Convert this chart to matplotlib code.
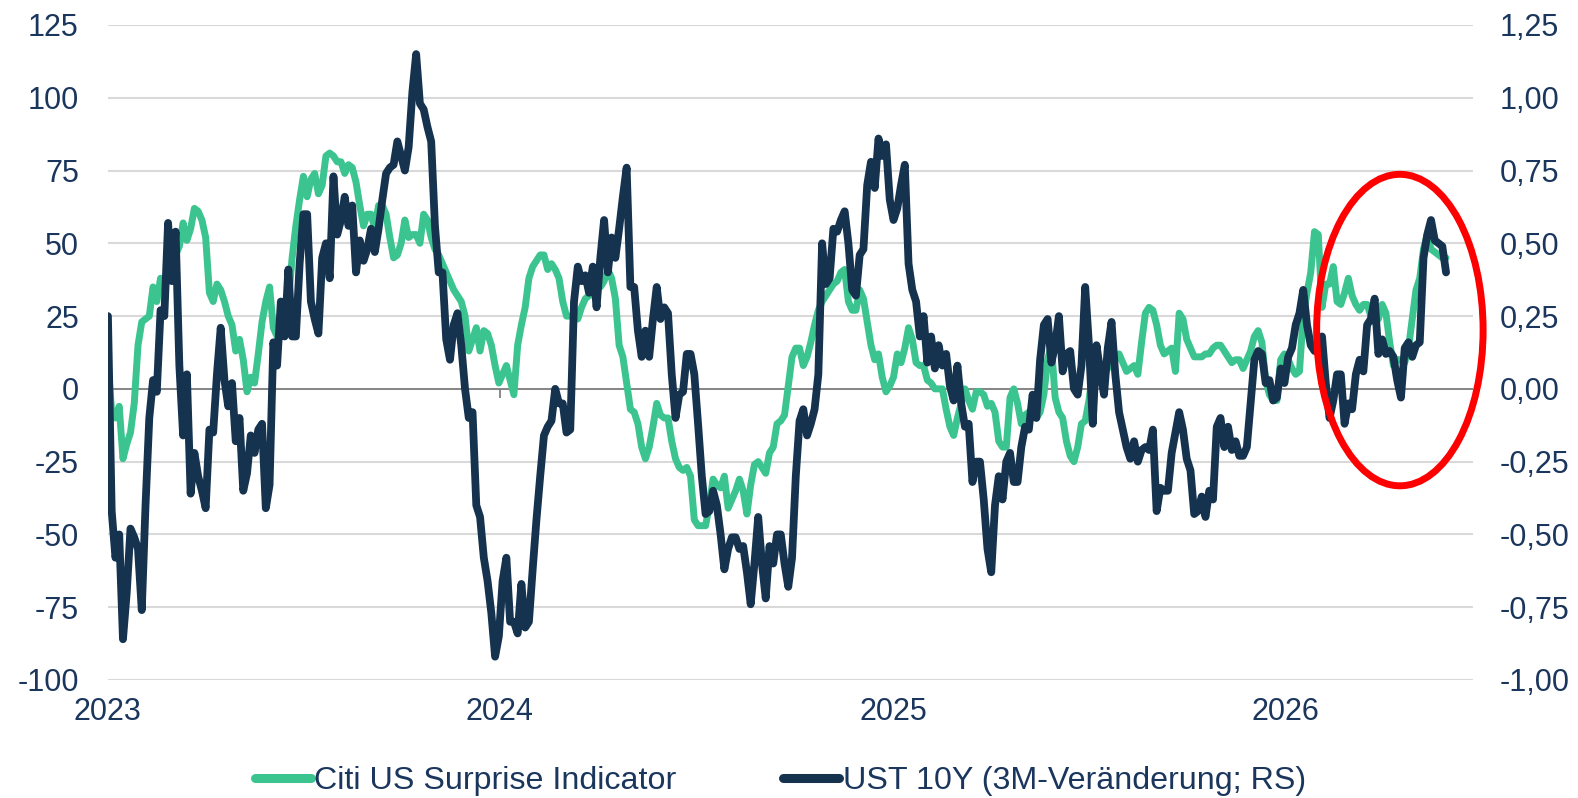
import numpy as np
import pandas as pd
import matplotlib
matplotlib.use('Agg')
import matplotlib.pyplot as plt
import matplotlib.dates as mdates
from matplotlib.patches import Ellipse
from matplotlib.lines import Line2D
from matplotlib.ticker import FuncFormatter, MultipleLocator

plt.rcParams['font.family'] = ['Liberation Sans', 'DejaVu Sans']

# ---------------- data (one value every 3.5 days) ----------------
citi = [
    9, -8, -10, -6, -24, -19, -15, -5, 15, 23,
    24, 25, 35, 30, 38, 37, 40, 44, 46, 49,
    57, 51, 55, 62, 61, 58, 52, 33, 30, 36,
    34, 30, 25, 22, 13, 17, 10, -1, 4, 2,
    12, 23, 30, 35, 21, 18, 20, 23, 30, 45,
    56, 65, 73, 66, 72, 74, 67, 70, 80, 81,
    80, 78, 78, 74, 77, 76, 71, 63, 56, 60,
    60, 55, 63, 63, 60, 52, 45, 46,
    50, 58, 52, 53, 53, 50, 60, 58, 52, 48,
    46, 43, 40, 37, 34, 32, 30, 25, 13, 17,
    21, 13, 20, 19, 15, 8, 2, 5, 8, 3,
    -2, 15, 22, 28, 38, 42, 44, 46, 46, 41,
    43, 41, 38, 30, 25, 25, 25, 24, 28, 31,
    32, 33, 35, 35, 37, 41, 38, 31, 15, 11,
    2, -7, -8, -12, -20, -24, -20, -13, -5, -9,
    -10, -10, -18, -24, -27, -28,
    -27, -30, -45, -47, -47, -47, -40, -31, -33, -34,
    -30, -41, -38, -35, -31, -35, -43, -33, -26, -25,
    -27, -29, -22, -20, -12, -11, -9, 1, 11, 14,
    14, 8, 11, 16, 22, 27, 30, 32, 34, 36,
    37, 40, 41, 30, 27, 27, 34, 31, 23, 15,
    10, 12, 4, -1, 1, 4, 12, 9, 14, 21,
    17, 9, 8, 8, 3, 2, 0, 0, 0, -7,
    -13, -16, -10, -5, 0, -4, -7,
    -1, -1, -2, -6, -5, -8, -18, -20, -20, -3,
    0, -5, -12, -9, -8, -9, -10, -8, -2, 10,
    15, -3, -8, -10, -18, -23, -25, -20, -12, -11,
    -4, 6, 6, 5, 5, 7, 9, 10, 12, 9,
    6, 7, 8, 5, 16, 26, 28, 27, 22, 15,
    12, 13, 14, 6, 26, 24, 17, 14, 11, 11,
    11, 12, 12, 14, 15, 15, 13, 11, 9, 10,
    10, 7, 10, 13, 18, 20, 16, 3,
    -2, -4, -4, 10, 12, 10, 7, 5, 6, 25,
    33, 40, 54, 53, 28, 36, 36, 42, 30, 29,
    33, 38, 32, 29, 27, 29, 29, 25, 23, 24,
    29, 26, 16, 8, 10, 10, 9, 14, 24, 34,
    38, 48, 53, 48, 47, 46, 45, 45,
]

# UST 10Y, 3-month change in basis points
ust_bp = [
    25, -42, -58, -50, -86, -70, -48, -51, -55, -76,
    -40, -10, 3, -1, 27, 25, 57, 37, 54, 8,
    -16, 5, -36, -22, -30, -35, -41, -14, -15, 5,
    21, 3, -6, 2, -18, -10, -35, -29, -16, -22,
    -14, -12, -41, -33, 16, 8, 30, 18, 41, 18,
    18, 43, 60, 60, 30, 24, 19, 45, 50, 38,
    73, 53, 58, 66, 56, 63, 40, 51, 44, 48,
    55, 47, 55, 65, 74, 76, 77, 85,
    80, 75, 83, 102, 115, 98, 96, 90, 85, 56,
    40, 40, 17, 10, 22, 26, 15, 0, -10, -8,
    -40, -44, -58, -66, -77, -92, -85, -66, -58, -80,
    -80, -84, -67, -82, -80, -62, -45, -30, -16, -13,
    -11, 0, -5, -5, -15, -14, 30, 42, 37, 39,
    33, 42, 28, 45, 58, 40, 52, 45, 55, 66,
    76, 35, 35, 20, 11, 20, 11, 24, 35, 24,
    28, 26, 5, -10, -2, -1,
    12, 12, 5, -12, -30, -43, -42, -35, -40, -50,
    -62, -55, -51, -51, -55, -54, -63, -74, -60, -44,
    -60, -72, -54, -60, -50, -50, -60, -68, -58, -30,
    -11, -7, -16, -12, -7, 5, 50, 36, 38, 55,
    54, 58, 61, 50, 34, 32, 46, 48, 70, 78,
    69, 86, 80, 84, 65, 58, 62, 70, 77, 43,
    34, 30, 18, 25, 9, 18, 7, 15, 8, 12,
    1, -4, 8, -5, -13, -12, -32,
    -25, -25, -38, -55, -63, -40, -30, -38, -25, -22,
    -32, -32, -20, -13, -14, -2, -10, 10, 22, 24,
    9, 15, 25, 6, 12, 13, 0, -2, 8, 35,
    15, -12, 15, 6, -2, 14, 23, 5, -8, -14,
    -20, -24, -18, -25, -21, -20, -21, -14, -42, -34,
    -35, -35, -22, -15, -8, -14, -24, -28, -43, -42,
    -37, -44, -35, -38, -13, -10, -20, -13, -21, -18,
    -23, -23, -20, -5, 10, 13, 12, 2,
    3, -4, -3, 7, 2, 11, 14, 22, 26, 34,
    22, 15, 13, 15, 18, 2, -10, -4, 5, 5,
    -12, -5, -7, 5, 10, 6, 22, 24, 31, 12,
    17, 12, 13, 11, 3, -3, 14, 16, 11, 15,
    16, 45, 53, 58, 51, 50, 49, 40,
]

dates = pd.date_range('2023-01-01', periods=len(citi), freq='84h')
ust = np.array(ust_bp) / 100.0

green = '#3BC48F'
navy = '#15324F'
text_col = '#1B365D'

# ---------------------- plot ----------------------
fig = plt.figure(figsize=(15.78, 7.98), dpi=100)
ax = fig.add_axes([0.0684, 0.1479, 0.8650, 0.8208])
ax2 = ax.twinx()

ax.plot(dates, citi, color=green, lw=5.0, solid_joinstyle='round',
        solid_capstyle='round', zorder=3)
ax2.plot(dates, ust, color=navy, lw=5.6, solid_joinstyle='round',
         solid_capstyle='round', zorder=3)

ax.set_ylim(-100, 125)
ax2.set_ylim(-1.0, 1.25)
ax.set_xlim(pd.Timestamp('2023-01-01'), pd.Timestamp('2026-06-25'))

ax.yaxis.set_major_locator(MultipleLocator(25))
ax2.yaxis.set_major_locator(MultipleLocator(0.25))
ax.yaxis.set_major_formatter(FuncFormatter(lambda v, p: f"{int(round(v))}"))
ax2.yaxis.set_major_formatter(FuncFormatter(lambda v, p: f"{v:.2f}".replace('.', ',')))

ax.xaxis.set_major_locator(mdates.YearLocator())
ax.xaxis.set_major_formatter(mdates.DateFormatter('%Y'))

ax.grid(axis='y', color='#D9D9D9', lw=1.5)
ax.set_axisbelow(True)
ax.axhline(0, color='#808080', lw=1.3, zorder=1)
years = pd.to_datetime(['2024-01-01'])
ax.vlines(years, -3, 0, color='#808080', lw=1.3, zorder=1)

for a in (ax, ax2):
    for s in a.spines.values():
        s.set_visible(False)
ax.tick_params(axis='y', length=0, pad=21, labelsize=22, labelcolor=text_col)
ax2.tick_params(axis='y', length=0, pad=19, labelsize=22, labelcolor=text_col)
ax.tick_params(axis='x', length=0, pad=12, labelsize=22, labelcolor=text_col)

# red circle highlighting the latest move
ell = Ellipse((mdates.date2num(pd.Timestamp('2026-04-18')), 0.202), width=155, height=1.07,
              fill=False, edgecolor='#FF0000', lw=5.0, clip_on=False, zorder=5)
ax2.add_patch(ell)

handles = [Line2D([], [], color=green, lw=6.5, solid_capstyle='round'),
           Line2D([], [], color=navy, lw=6.5, solid_capstyle='round')]
fig.legend(handles, ['Citi US Surprise Indicator', 'UST 10Y (3M-Veränderung; RS)'],
           loc='center', bbox_to_anchor=(0.4945, 0.021), ncol=2, frameon=False,
           fontsize=23.2, labelcolor=text_col, handlelength=1.75, handletextpad=0.1,
           columnspacing=3.3)

fig.savefig('out.png', dpi=100)
